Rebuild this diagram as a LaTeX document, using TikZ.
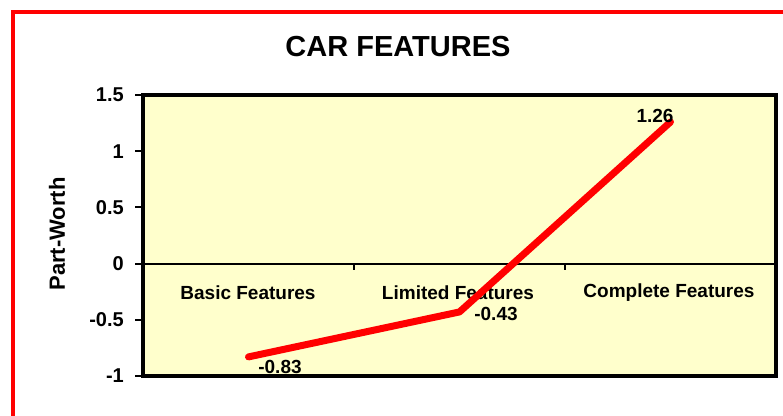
\documentclass[tikz,border=0pt]{standalone}
\usepackage{fontspec}
\setmainfont{Liberation Sans}
\begin{document}
\begin{tikzpicture}[x=1pt,y=1pt,
      frame line/.style={draw=red,line width=4pt},
      plot box/.style={draw=black,line width=4pt,fill=chartyellow},
      tick label/.style={anchor=east,inner sep=0pt,font=\fontsize{20}{20}\selectfont\bfseries},
      cat label/.style={inner sep=0pt,font=\fontsize{19}{19}\selectfont\bfseries},
      value label/.style={inner sep=0pt,font=\fontsize{19}{19}\selectfont\bfseries},
      series/.style={draw=red,line width=7pt,line join=round,line cap=round}]
      \definecolor{chartyellow}{RGB}{255,255,204}
      \useasboundingbox (0,0) rectangle (783,415);
      \clip (0,0) rectangle (783,415);
      % outer frame
      \draw[frame line] (13,-10) -- (13,403) -- (800,403);
      \node[font=\fontsize{29}{29}\selectfont\bfseries] (title) at (398,368) {CAR FEATURES};
      % plot area
      \draw[plot box] (143,39) rectangle (776,320);
      \draw[line width=2pt] (143,151.4) -- (776,151.4);
      \foreach \cx in {354,565}
        \draw[line width=2pt] (\cx,151.4) -- (\cx,145);
      % y axis
      \foreach \v/\t in {1.5/1.5,1/1,0.5/0.5,0/0,-0.5/-0.5,-1/-1} {
        \draw[line width=2pt] (135,{151.4+112.4*\v}) -- (143,{151.4+112.4*\v});
        \node[tick label] at (124,{151.4+112.4*\v}) {\t};
      }
      \node[rotate=90,font=\fontsize{22}{22}\selectfont\bfseries] (ylabel) at (57,181) {Part-Worth};
      % categories
      \node[cat label] (basic) at (248,122) {Basic Features};
      \node[cat label] (limited) at (458,122) {Limited Features};
      \node[cat label] (complete) at (669,122) {Complete Features};
      % data
      \coordinate (p1) at (248.5,{151.4+112.4*(-0.83)});
      \coordinate (p2) at (459.5,{151.4+112.4*(-0.43)});
      \coordinate (p3) at (670.5,{151.4+112.4*1.26});
      \draw[series] (p1) -- (p2) -- (p3);
      \node[value label] (v1) at (280,48) {-0.83};
      \node[value label] (v2) at (496,101) {-0.43};
      \node[value label] (v3) at (655,299.5) {1.26};
\end{tikzpicture}
\end{document}
